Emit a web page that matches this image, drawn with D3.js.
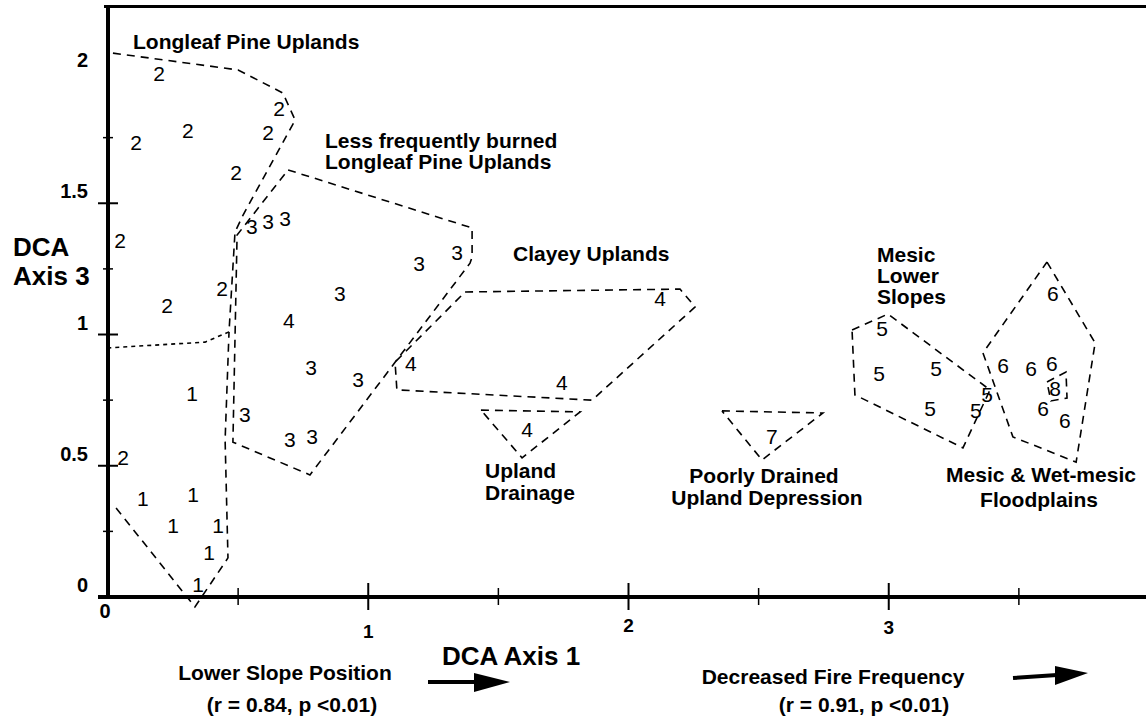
<!DOCTYPE html>
<html>
<head>
<meta charset="utf-8">
<script src="https://cdn.jsdelivr.net/npm/d3@7"></script>
<style>
  body { margin: 0; background: #fff; }
  text { font-family: "Liberation Sans", Arial, sans-serif; fill: #000; }
</style>
</head>
<body>
<div id="chart"></div>
<script>
var w = 1146;
var h = 717;

// plot numbers: [axis1, axis3] for each community group
var group1 = [[0.134, 0.377], [0.327, 0.389], [0.250, 0.274], [0.423, 0.274], [0.388, 0.168], [0.346, 0.046], [0.323, 0.777]];
var group2 = [[0.196, 1.996], [0.108, 1.733], [0.307, 1.779], [0.615, 1.768], [0.657, 1.863], [0.492, 1.619], [0.046, 1.360], [0.227, 1.109], [0.438, 1.177], [0.058, 0.530]];
var group3 = [[0.553, 1.410], [0.615, 1.429], [0.680, 1.444], [0.891, 1.158], [0.780, 0.876], [0.961, 0.827], [0.526, 0.697], [0.699, 0.602], [0.784, 0.610], [1.195, 1.272], [1.341, 1.314]];
var group4 = [[0.695, 1.055], [2.121, 1.139], [1.164, 0.891], [1.744, 0.819], [1.610, 0.640]];
var group5 = [[2.974, 1.025], [2.963, 0.853], [3.182, 0.872], [3.159, 0.720], [3.335, 0.712], [3.378, 0.770]];
var group6 = [[3.631, 1.158], [3.439, 0.884], [3.547, 0.869], [3.627, 0.888], [3.593, 0.720], [3.677, 0.674]];
var group7 = [[2.551, 0.613]];
var group8 = [[3.639, 0.796]];

// dashed outlines round the groups
var hullLongleaf = [[0.019, 2.072], [0.500, 2.008], [0.672, 1.920], [0.719, 1.817], [0.519, 1.455], [0.488, 1.390], [0.465, 1.010]];
var hullSplit = [[0.465, 1.010], [0.373, 0.971], [0, 0.949]];
var hullGroup1 = [[0.031, 0.339], [0.334, -0.038], [0.461, 0.149], [0.450, 0.598], [0.465, 1.010]];
var hullLessBurned = [[0.692, 1.627], [1.399, 1.406], [1.399, 1.295], [1.391, 1.272], [0.776, 0.465], [0.480, 0.590], [0.496, 1.379], [0.692, 1.627]];
var hullClayey = [[1.372, 1.162], [2.198, 1.173], [2.256, 1.105], [1.860, 0.750], [1.110, 0.789], [1.103, 0.895], [1.372, 1.162]];
var hullDrainage = [[1.433, 0.712], [1.814, 0.705], [1.591, 0.530], [1.433, 0.712]];
var hullDepression = [[2.359, 0.709], [2.747, 0.701], [2.513, 0.522], [2.359, 0.709]];
var hullMesic = [[2.859, 1.017], [2.997, 1.078], [3.389, 0.789], [3.285, 0.568], [2.870, 0.770], [2.859, 1.017]];
var hullFlood = [[3.608, 1.276], [3.793, 0.968], [3.720, 0.514], [3.477, 0.610], [3.362, 0.930], [3.608, 1.276]];
var hullGroup8 = [[3.608, 0.819], [3.681, 0.857], [3.685, 0.758], [3.623, 0.747], [3.608, 0.819]];

var yMajor = [0.5, 1, 1.5];
var yMinor = [0.25, 0.75, 1.25, 1.75];
var yLabels = [0, 0.5, 1, 1.5, 2];
var xMajor = [1, 2, 3];
var xMinor = [0.5, 1.5, 2.5, 3.5];
var xLabelDrop = [41, 35, 37];

var x = d3.scaleLinear().domain([0, 4]).range([108, 1149]);
var y = d3.scaleLinear().domain([0, 2.25]).range([597, 6.4]);

var svg = d3.select("#chart")
    .append("svg")
    .attr("width", w)
    .attr("height", h);

// outlines
var line = d3.line()
    .x(function (d) { return x(d[0]); })
    .y(function (d) { return y(d[1]); });

var hulls = [hullLongleaf, hullGroup1, hullLessBurned, hullClayey, hullDrainage, hullDepression, hullMesic, hullFlood, hullGroup8];
svg.selectAll("path.hull")
    .data(hulls)
    .enter()
    .append("path")
    .attr("class", "hull")
    .attr("d", line)
    .attr("fill", "none")
    .attr("stroke", "#000")
    .attr("stroke-width", 1.6)
    .attr("stroke-dasharray", "8,6");

svg.append("path")
    .attr("d", line(hullSplit))
    .attr("fill", "none")
    .attr("stroke", "#000")
    .attr("stroke-width", 1.6)
    .attr("stroke-dasharray", "4,4");

// the numbers
var groups = [group1, group2, group3, group4, group5, group6, group7, group8];
var pts = [];
groups.forEach(function (g, i) {
    g.forEach(function (d) { pts.push({ x: d[0], y: d[1], g: i + 1 }); });
});

svg.selectAll("text.pt")
    .data(pts)
    .enter()
    .append("text")
    .attr("class", "pt")
    .attr("x", function (d) { return x(d.x); })
    .attr("y", function (d) { return y(d.y); })
    .attr("dy", "0.36em")
    .attr("text-anchor", "middle")
    .attr("font-size", "21px")
    .text(function (d) { return d.g; });

// axes
svg.append("line")
    .attr("x1", 98).attr("x2", w)
    .attr("y1", y(0)).attr("y2", y(0))
    .attr("stroke", "#000").attr("stroke-width", 4);
svg.append("line")
    .attr("x1", x(0)).attr("x2", x(0))
    .attr("y1", y(0) + 2).attr("y2", y(2.25))
    .attr("stroke", "#000").attr("stroke-width", 4);
svg.append("line")
    .attr("x1", 104).attr("x2", w)
    .attr("y1", y(2.25)).attr("y2", y(2.25))
    .attr("stroke", "#000").attr("stroke-width", 3);

svg.selectAll("line.ymaj")
    .data(yMajor)
    .enter()
    .append("line")
    .attr("x1", x(0) - 10).attr("x2", x(0) + 10)
    .attr("y1", function (d) { return y(d); })
    .attr("y2", function (d) { return y(d); })
    .attr("stroke", "#000").attr("stroke-width", 2);

svg.selectAll("line.ymin")
    .data(yMinor)
    .enter()
    .append("line")
    .attr("x1", x(0) - 5).attr("x2", x(0) + 5)
    .attr("y1", function (d) { return y(d); })
    .attr("y2", function (d) { return y(d); })
    .attr("stroke", "#000").attr("stroke-width", 1.5);

svg.selectAll("line.xmaj")
    .data(xMajor)
    .enter()
    .append("line")
    .attr("x1", function (d) { return x(d); })
    .attr("x2", function (d) { return x(d); })
    .attr("y1", y(0) - 14).attr("y2", y(0) + 13)
    .attr("stroke", "#000").attr("stroke-width", 2);

svg.selectAll("line.xmin")
    .data(xMinor)
    .enter()
    .append("line")
    .attr("x1", function (d) { return x(d); })
    .attr("x2", function (d) { return x(d); })
    .attr("y1", y(0) - 9).attr("y2", y(0) + 8)
    .attr("stroke", "#000").attr("stroke-width", 1.5);

svg.selectAll("text.ylab")
    .data(yLabels)
    .enter()
    .append("text")
    .attr("x", 88)
    .attr("y", function (d) { return y(d) - 5; })
    .attr("text-anchor", "end")
    .attr("font-size", "20px")
    .attr("font-weight", "bold")
    .text(function (d) { return d; });

svg.append("text")
    .attr("x", 105).attr("y", 618)
    .attr("text-anchor", "middle")
    .attr("font-size", "20px")
    .attr("font-weight", "bold")
    .text("0");

svg.selectAll("text.xlab")
    .data(xMajor)
    .enter()
    .append("text")
    .attr("x", function (d) { return x(d); })
    .attr("y", function (d, i) { return y(0) + xLabelDrop[i]; })
    .attr("text-anchor", "middle")
    .attr("font-size", "19px")
    .attr("font-weight", "bold")
    .text(function (d) { return d; });

// titles and notes: text, x, y, anchor, size
var notes = [
    ["Longleaf Pine Uplands", 133, 49, "start", 21],
    ["Less frequently burned", 325, 148, "start", 21],
    ["Longleaf Pine Uplands", 325, 169, "start", 21],
    ["Clayey Uplands", 513, 261, "start", 21],
    ["Mesic", 877, 262, "start", 21],
    ["Lower", 877, 283, "start", 21],
    ["Slopes", 877, 304, "start", 21],
    ["Upland", 485, 478, "start", 21],
    ["Drainage", 485, 500, "start", 21],
    ["Poorly Drained", 764, 483, "middle", 21],
    ["Upland Depression", 767, 505, "middle", 21],
    ["Mesic & Wet-mesic", 1041, 482, "middle", 21],
    ["Floodplains", 1039, 507, "middle", 21],
    ["DCA", 13, 256, "start", 26],
    ["Axis 3", 13, 285, "start", 26],
    ["DCA Axis 1", 511, 665, "middle", 26],
    ["Lower Slope Position", 285, 680, "middle", 21],
    ["(r = 0.84, p <0.01)", 292, 712, "middle", 21],
    ["Decreased Fire Frequency", 833, 684, "middle", 21],
    ["(r = 0.91, p <0.01)", 864, 712, "middle", 21]
];

svg.selectAll("text.note")
    .data(notes)
    .enter()
    .append("text")
    .attr("x", function (d) { return d[1]; })
    .attr("y", function (d) { return d[2]; })
    .attr("text-anchor", function (d) { return d[3]; })
    .attr("font-size", function (d) { return d[4] + "px"; })
    .attr("font-weight", "bold")
    .text(function (d) { return d[0]; });

// arrows
var arrows = [[428, 682, 474, 682, 510, 682], [1013, 678, 1055, 675, 1088, 673]];
arrows.forEach(function (a) {
    svg.append("line")
        .attr("x1", a[0]).attr("y1", a[1])
        .attr("x2", a[2] + 2).attr("y2", a[3])
        .attr("stroke", "#000").attr("stroke-width", 4);
    svg.append("path")
        .attr("d", "M" + a[2] + "," + (a[3] - 9) + "L" + a[4] + "," + a[5] + "L" + a[2] + "," + (a[3] + 10) + "Z")
        .attr("fill", "#000");
});
</script>
</body>
</html>
